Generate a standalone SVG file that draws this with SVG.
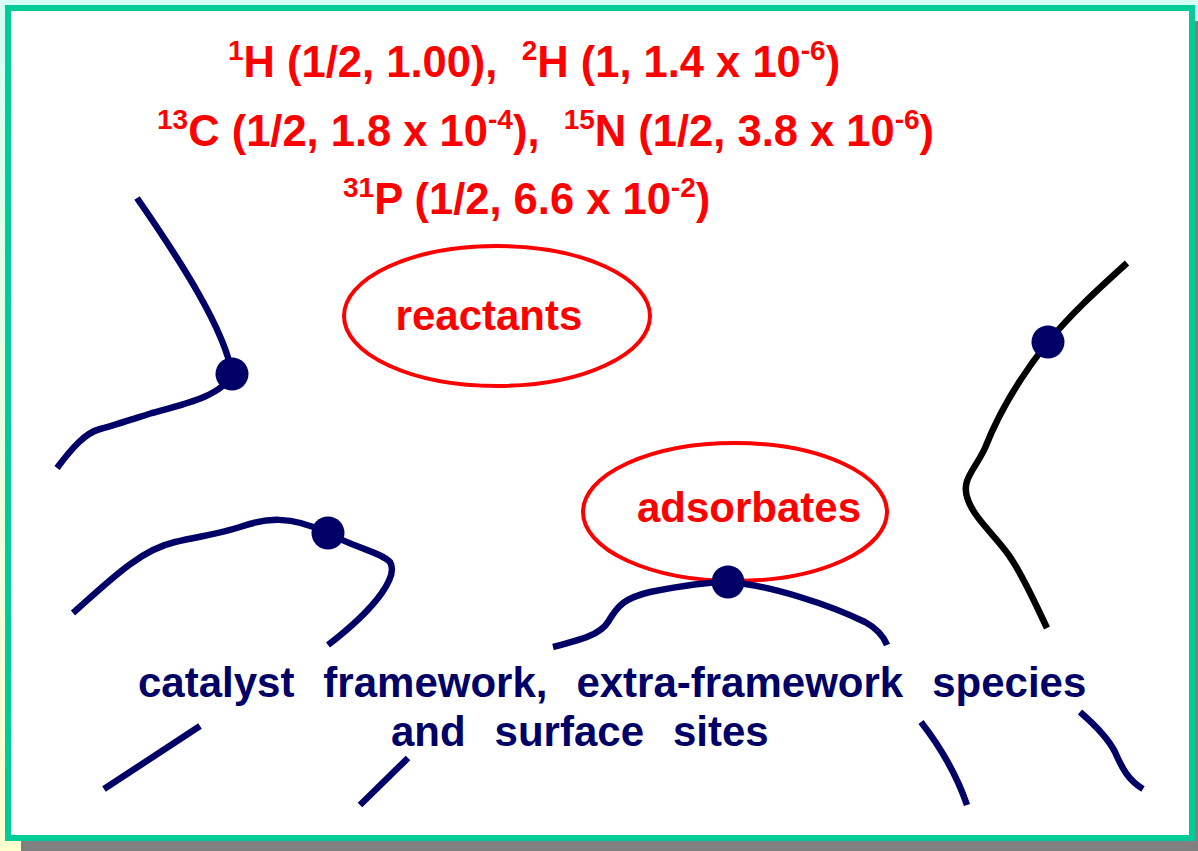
<svg xmlns="http://www.w3.org/2000/svg" width="1198" height="851" viewBox="0 0 1198 851">
<defs>
<linearGradient id="bg" x1="0" y1="0" x2="0" y2="1">
<stop offset="0" stop-color="#D6FFF5"/>
<stop offset="1" stop-color="#FFFFCF"/>
</linearGradient>
<style>
.red{font-family:"Liberation Sans",Arial,sans-serif;font-weight:bold;font-size:43.5px;fill:#FF0000;white-space:pre}
.sup{font-size:28px}
.lbl{font-family:"Liberation Sans",Arial,sans-serif;font-weight:bold;font-size:42px;fill:#FF0000}
.navy{font-family:"Liberation Sans",Arial,sans-serif;font-weight:bold;font-size:42px;fill:#000066;white-space:pre;word-spacing:2.8px}
.ell{fill:none;stroke:#FF0000;stroke-width:4}
.chain{fill:none;stroke:#000066;stroke-width:6.5}
.chainb{fill:none;stroke:#000000;stroke-width:6.5}
.dot{fill:#000066}
</style>
</defs>
<rect x="0" y="0" width="1198" height="851" fill="url(#bg)"/>
<rect x="21" y="21" width="1177" height="830" fill="#808080"/>
<rect x="8" y="8" width="1184" height="830" fill="#FFFFFF" stroke="#00CC99" stroke-width="6"/>

<g id="header">
<text class="red" x="228" y="77"><tspan class="sup" dy="-17">1</tspan><tspan dy="17">H (1/2, 1.00),  </tspan><tspan class="sup" dy="-17">2</tspan><tspan dy="17">H (1, 1.4 x 10</tspan><tspan class="sup" dy="-17">-6</tspan><tspan dy="17">)</tspan></text>
<text class="red" x="157" y="146"><tspan class="sup" dy="-17">13</tspan><tspan dy="17">C (1/2, 1.8 x 10</tspan><tspan class="sup" dy="-17">-4</tspan><tspan dy="17">),  </tspan><tspan class="sup" dy="-17">15</tspan><tspan dy="17">N (1/2, 3.8 x 10</tspan><tspan class="sup" dy="-17">-6</tspan><tspan dy="17">)</tspan></text>
<text class="red" x="343" y="214"><tspan class="sup" dy="-17">31</tspan><tspan dy="17">P (1/2, 6.6 x 10</tspan><tspan class="sup" dy="-17">-2</tspan><tspan dy="17">)</tspan></text>
</g>

<g id="reactants">
<ellipse class="ell" cx="497" cy="316" rx="153" ry="70"/>
<text class="lbl" x="489" y="330" text-anchor="middle">reactants</text>
</g>

<g id="adsorbates">
<ellipse class="ell" cx="735" cy="512" rx="152" ry="69"/>
<text class="lbl" x="749" y="522" text-anchor="middle">adsorbates</text>
</g>

<g id="connectors">
<path class="chain" d="M137,198 C180,260 225,330 232,374 C222,396 185,404 152,413 C130,420 115,425 100,429 C85,433 72,448 57,468"/>
<path class="chain" d="M73,613 C110,580 140,550 175,542 C200,536 215,535 240,527 C265,518 290,515 328,533 C355,548 380,552 390,562 C398,575 380,605 328,645"/>
<path class="chain" d="M553,647 C580,640 600,635 608,622 C618,605 625,598 650,592 C680,586 705,582 728,582 C770,585 830,605 865,622 C880,630 885,640 887,645"/>
<path class="chainb" d="M1127,263 C1095,292 1070,315 1048,342 C1020,377 1000,410 985,448 C975,470 960,480 968,500 C975,520 1000,540 1012,560 C1025,580 1035,603 1047,628"/>
<path class="chain" d="M104,789 L200,726"/>
<path class="chain" d="M360,805 L408,758"/>
<path class="chain" d="M921,722 C935,740 955,770 967,805"/>
<path class="chain" d="M1080,712 C1095,725 1108,738 1115,752 C1122,768 1128,780 1143,789"/>
</g>

<g id="sites">
<circle class="dot" cx="232" cy="374" r="16.5"/>
<circle class="dot" cx="328" cy="533" r="16.5"/>
<circle class="dot" cx="728" cy="582" r="16.5"/>
<circle class="dot" cx="1048" cy="342" r="16.5"/>
</g>

<g id="caption">
<text class="navy" x="138" y="697">catalyst  framework,  extra-framework  species</text>
<text class="navy" x="391" y="746">and  surface  sites</text>
</g>
</svg>
